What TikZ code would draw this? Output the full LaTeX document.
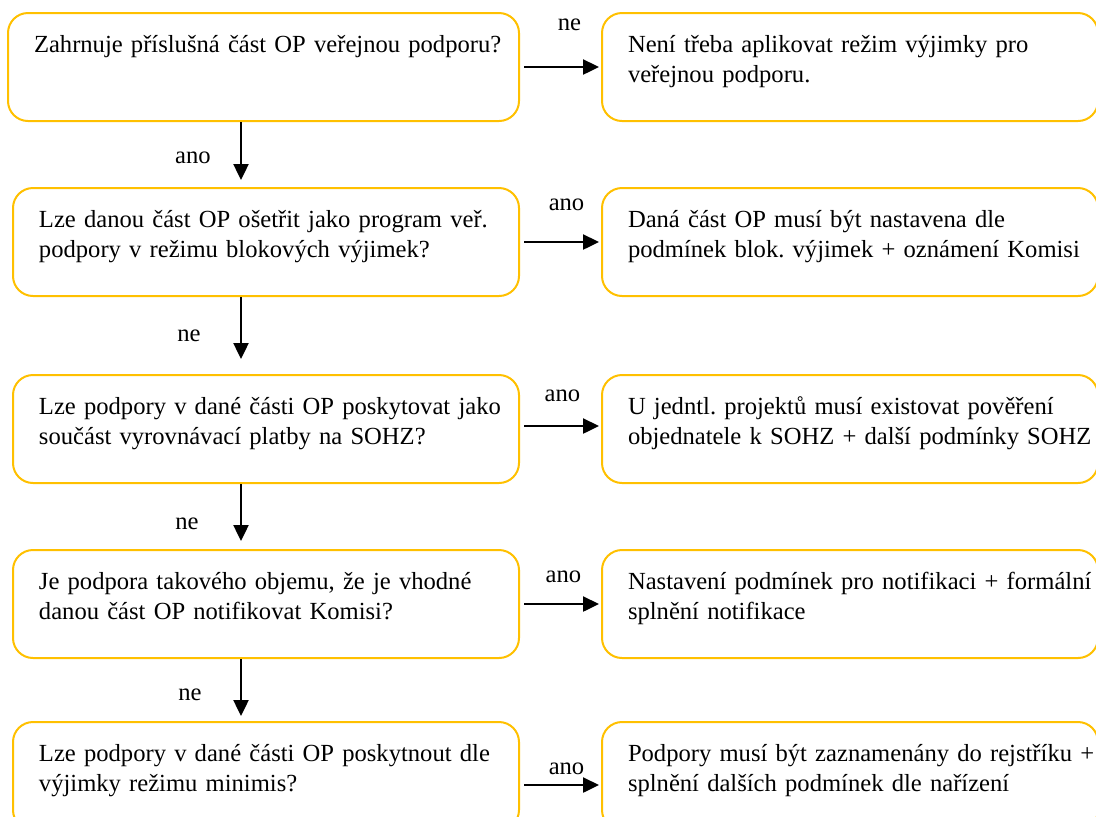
\documentclass[tikz,border=0pt]{standalone}
\usepackage{fontspec}
\setmainfont{Liberation Serif}
\usetikzlibrary{positioning,arrows.meta}
\definecolor{gold}{HTML}{FFC000}
\definecolor{ink}{HTML}{000000}
\newcommand{\boxlines}[1]{\begin{tabular}[t]{@{}l@{}}#1\end{tabular}}
\frenchspacing
\tikzset{
  qbox/.style={rectangle,rounded corners=10pt,draw=gold,line width=1pt,
    align=left,text width=227pt,inner xsep=13pt,inner ysep=0pt,
    text height=19.5pt,text depth=34.5pt,font=\fontsize{12.3}{15}\selectfont},
  abox/.style={qbox,text width=222pt},
  ar/.style={-{Triangle[length=8pt,width=7.5pt]},line width=1.2pt,draw=ink},
  lbl/.style={font=\fontsize{12.3}{15}\selectfont,inner sep=0pt},
}
\begin{document}
\begin{tikzpicture}
  \useasboundingbox (0,0) rectangle (548pt,-408pt);
  \coordinate (spine) at (120.5pt,0);
  \node[qbox,text width=229.5pt,anchor=north west] (q1) at (3.5pt,-6pt)
    {\boxlines{Zahrnuje příslušná část OP veřejnou podporu?}};
  \node[qbox,below=32.5pt of q1.south east,anchor=north east] (q2)
    {\boxlines{Lze danou část OP ošetřit jako program veř.\\podpory v režimu blokových výjimek?}};
  \node[qbox,below=38.5pt of q2] (q3)
    {\boxlines{Lze podpory v dané části OP poskytovat jako\\součást vyrovnávací platby na SOHZ?}};
  \node[qbox,below=32.5pt of q3] (q4)
    {\boxlines{Je podpora takového objemu, že je vhodné\\danou část OP notifikovat Komisi?}};
  \node[qbox,below=31pt of q4] (q5)
    {\boxlines{Lze podpory v dané části OP poskytnout dle\\výjimky režimu minimis?}};
  \node[abox,right=40.5pt of q1] (a1)
    {\boxlines{Není třeba aplikovat režim výjimky pro\\veřejnou podporu.}};
  \node[abox,right=40.5pt of q2] (a2)
    {\boxlines{Daná část OP musí být nastavena dle\\podmínek blok. výjimek + oznámení Komisi}};
  \node[abox,right=40.5pt of q3] (a3)
    {\boxlines{U jedntl. projektů musí existovat pověření\\objednatele k SOHZ + další podmínky SOHZ}};
  \node[abox,right=40.5pt of q4] (a4)
    {\boxlines{Nastavení podmínek pro notifikaci + formální\\splnění notifikace}};
  \node[abox,right=40.5pt of q5] (a5)
    {\boxlines{Podpory musí být zaznamenány do rejstříku +\\splnění dalších podmínek dle nařízení}};
  \draw[ar,shorten >=3.5pt] (q1.south -| spine) -- node[lbl,pos=.55,xshift=-24pt] {ano} (q2.north -| spine);
  \draw[ar,shorten >=7.5pt] (q2.south -| spine) -- node[lbl,pos=.51,xshift=-26pt] {ne} (q3.north -| spine);
  \draw[ar,shorten >=4pt] (q3.south -| spine) -- node[lbl,pos=.62,xshift=-27pt] {ne} (q4.north -| spine);
  \draw[ar,shorten >=2.5pt] (q4.south -| spine) -- node[lbl,pos=.58,xshift=-25.5pt] {ne} (q5.north -| spine);
  \draw[ar,shorten <=2pt,shorten >=1pt] (q1) -- node[lbl,xshift=4.5pt,yshift=21pt] {ne} (a1);
  \draw[ar,shorten <=2pt,shorten >=1pt] (q2) -- node[lbl,xshift=3pt,yshift=18.5pt] {ano} (a2);
  \draw[ar,shorten <=2pt,shorten >=1pt] ([yshift=1.5pt]q3.east) -- node[lbl,xshift=1pt,yshift=15pt] {ano} ([yshift=1.5pt]a3.west);
  \draw[ar,shorten <=2pt,shorten >=1pt] (q4) -- node[lbl,xshift=1.5pt,yshift=13.5pt] {ano} (a4);
  \draw[ar,shorten <=2pt,shorten >=1pt] ([yshift=-4.5pt]q5.east) -- node[lbl,xshift=3pt,yshift=8pt] {ano} ([yshift=-4.5pt]a5.west);
\end{tikzpicture}
\end{document}
